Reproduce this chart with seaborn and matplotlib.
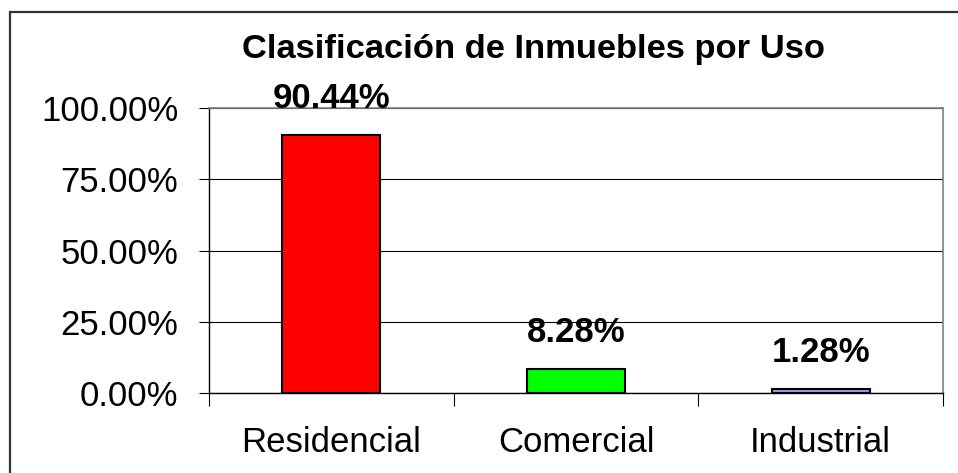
import matplotlib
matplotlib.use("Agg")
import matplotlib.pyplot as plt
import seaborn as sns
from matplotlib.patches import Rectangle
from matplotlib.ticker import FuncFormatter, FixedLocator

categories = ["Residencial", "Comercial", "Industrial"]
values = [90.44, 8.28, 1.28]
value_labels = ["90.44%", "8.28%", "1.28%"]
colors = ["#FF0000", "#00FF00", "#9999FF"]
yticks = [0, 25, 50, 75, 100]
title = "Clasificación de Inmuebles por Uso"

plt.rcParams["font.family"] = ["Liberation Sans", "DejaVu Sans"]

fig = plt.figure(figsize=(9.58, 4.73), dpi=100)
ax = fig.add_axes([209/958, 1-393/473, (943-209)/958, (393-108)/473])

sns.barplot(x=categories, y=values, hue=categories, palette=colors, legend=False,
            width=0.4, edgecolor="black", linewidth=1.5, saturation=1, ax=ax, zorder=3)

ax.set_ylim(0, 100)
ax.set_xlim(-0.5, 2.5)
ax.set_yticks(yticks)
ax.yaxis.set_major_formatter(FuncFormatter(lambda v, p: f"{v:.2f}%"))
ax.set_xlabel("")
ax.set_ylabel("")

ax.set_axisbelow(True)
ax.yaxis.grid(True, color="black", linewidth=0.8)
ax.xaxis.grid(False)

for side in ["left", "bottom"]:
    ax.spines[side].set_color("black")
    ax.spines[side].set_linewidth(1.0)
for side in ["top", "right"]:
    ax.spines[side].set_color("#808080")
    ax.spines[side].set_linewidth(1.2)

ax.tick_params(axis="y", direction="out", length=7.2, width=0.8, color="black",
               labelsize=25, pad=15)
ax.tick_params(axis="x", which="major", length=0, labelsize=25, pad=24)
ax.xaxis.set_minor_locator(FixedLocator([-0.5, 0.5, 1.5, 2.5]))
ax.tick_params(axis="x", which="minor", direction="out", length=9, width=0.8, color="black")

for i, (v, lab) in enumerate(zip(values, value_labels)):
    ax.annotate(lab, xy=(i, v), xytext=(0, 19.5), textcoords="offset points",
                ha="center", va="baseline", fontsize=25, fontweight="bold",
                annotation_clip=False)

fig.text(533/958, 1-58/473, title, ha="center", va="baseline",
         fontsize=24.8, fontweight="bold")

fig.add_artist(Rectangle((10/958, -0.1), 1.2, 0.1 + 1 - 12/473, transform=fig.transFigure,
                         fill=False, edgecolor="#333333", linewidth=1.6, clip_on=False))

fig.savefig("out.png", dpi=100)
